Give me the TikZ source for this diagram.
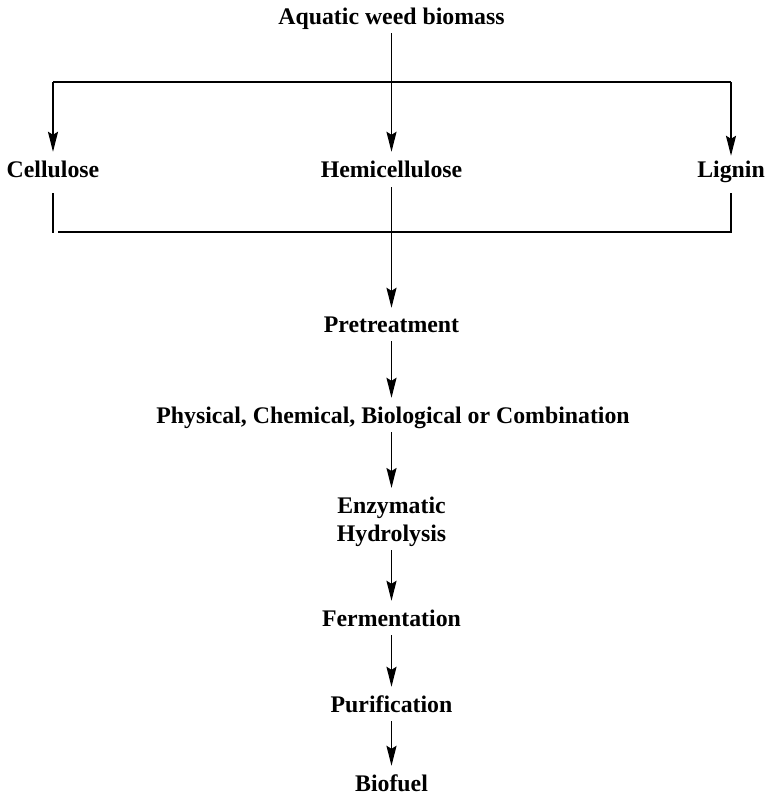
\documentclass[tikz,border=0pt]{standalone}
\usepackage{fontspec}
\setmainfont{Liberation Serif}
\usetikzlibrary{arrows.meta}

\newcommand{\lblfont}{\fontsize{23.8}{28}\selectfont\bfseries}

\tikzset{
  lbl/.style={font=\lblfont, inner sep=0pt, text height=16pt, text depth=6pt, anchor=base},
  flow/.style={-{Stealth[length=20pt,width=10pt,inset=3pt]}, line width=1.8pt,
               shorten >=9pt, shorten <=3pt},
  rule/.style={line width=1.8pt}
}

\begin{document}
\begin{tikzpicture}[x=1pt, y=-1pt]
  \useasboundingbox (0,0) rectangle (765,795);

  % source and its three components
  \node[lbl] (src)  at (391.5,24)  {Aquatic weed biomass};
  \node[lbl] (cel)  at (53,177)    {Cellulose};
  \node[lbl] (hemi) at (391.5,177) {Hemicellulose};
  \node[lbl] (lig)  at (731,177)   {Lignin};

  % processing chain
  \node[lbl] (pre)  at (391.5,332) {Pretreatment};
  \node[lbl] (phys) at (393,423)   {Physical, Chemical, Biological or Combination};
  \node[font=\lblfont, inner sep=0pt, align=center, anchor=north] (enz) at (391.5,497)
        {Enzymatic\\Hydrolysis};
  \node[lbl] (ferm) at (391.5,626) {Fermentation};
  \node[lbl] (puri) at (391.5,712) {Purification};
  \node[lbl, text depth=0pt] (bio) at (391.5,791) {Biofuel};

  % upper distribution bar
  \coordinate (tl) at (53,82);
  \coordinate (tr) at (731,82);
  \draw[rule] (tl) -- (tr);
  \draw[flow, shorten <=0pt] (tl) -- (cel);
  \draw[flow, shorten <=0pt, shorten >=5pt] (tr) -- (lig);
  \draw[flow] (src) -- (hemi);

  % lower collecting bar
  \coordinate (bl)  at (53,233);
  \coordinate (bar) at (58,232);
  \coordinate (br)  at (731,232);
  \draw[rule, shorten <=10pt] (cel) -- (bl);
  \draw[rule, shorten >=10pt] (bar) -- (br) -- (lig);

  % main flow
  \draw[flow, shorten <=4pt, shorten >=8pt] (hemi) -- (pre);
  \draw[flow] (pre)  -- (pre |- phys.north);
  \draw[flow, shorten >=9pt] (phys.south -| enz) -- (enz);
  \draw[flow] (enz)  -- (ferm);
  \draw[flow] (ferm) -- (puri);
  \draw[flow] (puri) -- (bio);
\end{tikzpicture}
\end{document}
